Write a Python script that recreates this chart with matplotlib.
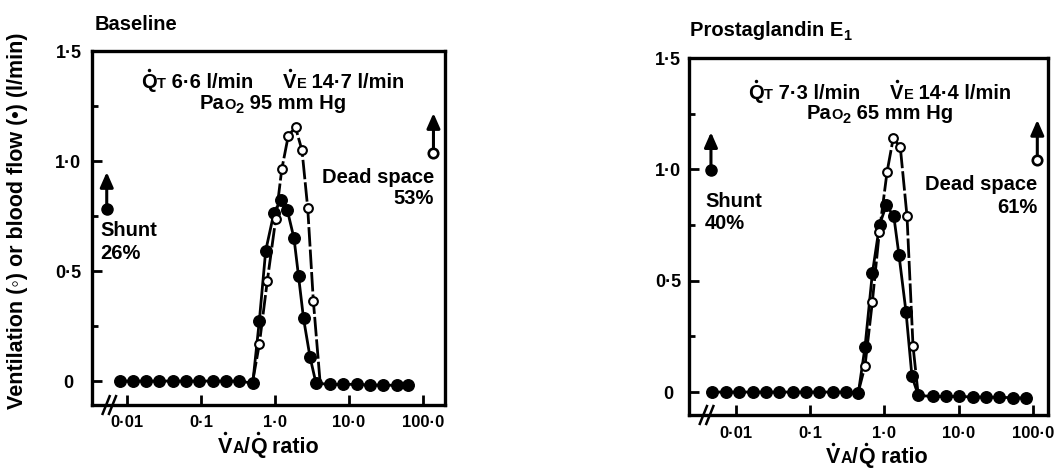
import matplotlib
matplotlib.use('Agg')
import matplotlib.pyplot as plt
from matplotlib.lines import Line2D
from matplotlib.ticker import NullLocator
from matplotlib.transforms import offset_copy, blended_transform_factory

FONT = ['Liberation Sans', 'DejaVu Sans']
plt.rcParams['font.family'] = FONT
plt.rcParams['font.weight'] = 'bold'

# ---------------- data ----------------
# Baseline panel: blood flow (filled) and ventilation (open) vs VA/Q ratio
base_q_ratio = [0.00804, 0.0122, 0.0181, 0.0274, 0.0415, 0.0627, 0.0948, 0.144,
                0.218, 0.330, 0.500, 0.614, 0.748, 0.968, 1.205, 1.466, 1.807,
                2.080, 2.427, 2.972, 3.581, 5.534, 8.375, 12.71, 19.23, 29.11,
                44.16, 63.24]
base_q_flow = [0, 0, 0, 0, 0, 0, 0, 0, 0, 0, -0.01, 0.274, 0.592, 0.765, 0.823,
               0.777, 0.648, 0.476, 0.285, 0.109, -0.01, -0.015, -0.015, -0.015,
               -0.018, -0.018, -0.02, -0.02]
base_v_ratio = [0.500, 0.614, 0.787, 1.021, 1.233, 1.514, 1.892, 2.317, 2.767,
                3.296, 4.055]
base_v_vent = [0, 0.168, 0.456, 0.735, 0.962, 1.116, 1.153, 1.048, 0.786, 0.364, 0]
base_shunt = (0.00532, 0.78)
base_dead = (138.4, 1.038)

# Prostaglandin E1 panel
pge_q_ratio = [0.00471, 0.00733, 0.0111, 0.0168, 0.0254, 0.0383, 0.0581, 0.0877,
               0.132, 0.200, 0.303, 0.444, 0.546, 0.686, 0.859, 1.057, 1.334,
               1.567, 1.950, 2.344, 2.851, 4.457, 6.730, 10.16, 15.42, 23.28,
               35.16, 53.33, 80.54]
pge_q_flow = [0, 0, 0, 0, 0, 0, 0, 0, 0, 0, 0, -0.005, 0.201, 0.533, 0.752,
              0.839, 0.790, 0.615, 0.359, 0.070, -0.015, -0.02, -0.02, -0.02,
              -0.022, -0.022, -0.024, -0.025, -0.027]
pge_v_ratio = [0.444, 0.546, 0.686, 0.851, 1.081, 1.312, 1.633, 2.009, 2.421, 2.818]
pge_v_vent = [0, 0.117, 0.405, 0.717, 0.987, 1.141, 1.099, 0.790, 0.207, 0]
pge_shunt = (0.00460, 0.997)
pge_dead = (114.3, 1.042)

x_ticks = [0.01, 0.1, 1, 10, 100]
x_tick_labels = ['0·01', '0·1', '1·0', '10·0', '100·0']
y_ticks = [0, 0.5, 1.0, 1.5]
y_tick_labels = ['0', '0·5', '1·0', '1·5']
y_minor = [0.25, 0.75, 1.25]

# ---------------- figure ----------------
fig = plt.figure(figsize=(10.54, 4.72), dpi=100)
renderer = fig.canvas.get_renderer()


def rich(trans, x, y, pieces, ha='left'):
    """pieces: (text, size, dy_px, dot_above, pad_before_px)"""
    items = []
    cur = 0.0
    for p in pieces:
        s, size = p[0], p[1]
        dy = p[2] if len(p) > 2 else 0.0
        dot = p[3] if len(p) > 3 else False
        pad = p[4] if len(p) > 4 else 0.0
        cur += pad
        t = fig.text(x, y, s, fontsize=size, fontweight='bold', ha='left',
                     va='baseline', transform=trans, family=FONT)
        w = t.get_window_extent(renderer).width
        items.append((t, cur, dy, w, size, dot))
        cur += w
    start = {'left': 0.0, 'center': -cur / 2.0, 'right': -cur}[ha]
    for t, off, dy, w, size, dot in items:
        t.set_transform(offset_copy(trans, fig=fig, x=start + off, y=dy, units='dots'))
        if dot:
            cap = size * 0.716 * fig.dpi / 72.0
            fig.add_artist(Line2D([x], [y], marker='o', ms=2.5, color='k', mew=0,
                                  transform=offset_copy(trans, fig=fig, x=start + off + w / 2.0,
                                                        y=dy + cap + 4.0, units='dots')))


def panel(rect, xlim, ylim, q_ratio, q_flow, v_ratio, v_vent, shunt, dead,
          ytick_pad, xtick_pad):
    ax = fig.add_axes(rect)
    ax.set_xscale('log')
    ax.set_xlim(*xlim)
    ax.set_ylim(*ylim)
    # blood flow (filled) line
    ax.plot(q_ratio, q_flow, '-', color='k', lw=2.0, marker='o', ms=8.3,
            mfc='k', mec='k', zorder=3, clip_on=False)
    # ventilation (open) line
    ax.plot(v_ratio, v_vent, color='k', lw=2.0, dashes=(7, 1.1), marker='o', ms=6.3,
            mfc='white', mec='k', mew=1.5, markevery=slice(1, len(v_ratio) - 1),
            zorder=4, clip_on=False)
    # shunt & dead space with arrows
    ax.plot([shunt[0]], [shunt[1]], 'o', color='k', ms=8, zorder=5)
    ax.annotate('', xy=(shunt[0], shunt[1] + 0.17), xytext=(shunt[0], shunt[1]),
                arrowprops=dict(arrowstyle='-|>,head_length=0.5,head_width=0.22', lw=2.2,
                                color='k', mutation_scale=18, shrinkA=0, shrinkB=0))
    ax.annotate('', xy=(dead[0], dead[1] + 0.18), xytext=(dead[0], dead[1] + 0.02),
                arrowprops=dict(arrowstyle='-|>,head_length=0.5,head_width=0.22', lw=2.2,
                                color='k', mutation_scale=18, shrinkA=0, shrinkB=0))
    ax.plot([dead[0]], [dead[1]], 'o', mfc='white', mec='k', mew=1.9, ms=6.8, zorder=5)

    ax.set_xticks(x_ticks, x_tick_labels)
    ax.xaxis.set_minor_locator(NullLocator())
    ax.set_yticks(y_ticks, y_tick_labels)
    ax.set_yticks(y_minor, minor=True)
    ax.tick_params(axis='both', which='major', direction='in', length=7, width=2.0,
                   top=False, right=False)
    ax.tick_params(axis='y', which='major', labelsize=13, pad=ytick_pad)
    ax.tick_params(axis='x', which='major', labelsize=12, pad=xtick_pad)
    ax.tick_params(axis='y', which='minor', direction='in', length=4, width=2.0, right=False)
    for lbl in ax.get_yticklabels():
        lbl.set_ha('center')
        lbl.set_fontweight('bold')
    for lbl in ax.get_xticklabels():
        lbl.set_fontweight('bold')
    for sp in ax.spines.values():
        sp.set_linewidth(2.4)
    # axis break marks on the bottom spine
    for dx in (0.0, 0.018):
        ax.plot([0.03 + dx, 0.05 + dx], [-0.025, 0.025], transform=ax.transAxes,
                color='k', lw=1.8, clip_on=False, zorder=6)
    return ax


# left panel (Baseline)
axL = panel([0.0873, 0.1419, 0.3349, 0.75], (0.003365, 198.2), (-0.109, 1.5),
            base_q_ratio, base_q_flow, base_v_ratio, base_v_vent, base_shunt, base_dead,
            ytick_pad=17, xtick_pad=7.0)
# right panel (Prostaglandin E1)
axR = panel([0.6537, 0.1208, 0.3406, 0.7563], (0.002328, 159.2), (-0.103, 1.5),
            pge_q_ratio, pge_q_flow, pge_v_ratio, pge_v_vent, pge_shunt, pge_dead,
            ytick_pad=15, xtick_pad=8.0)

S = 14.5   # main annotation size
s = 10.5   # small capitals

# titles
rich(fig.transFigure, 95 / 1054, 1 - 30 / 472, [('Baseline', S)])
rich(fig.transFigure, 690 / 1054, 1 - 36 / 472,
     [('Prostaglandin E', S), ('1', s, -4)])

# y label
fig.text(18 / 1054, 1 - 221 / 472, 'Ventilation (◦) or blood flow (•) (l/min)',
         rotation=90, ha='center', va='center', fontsize=15.5, fontweight='bold',
         family=FONT)


def annotate_panel(ax, qt, ve, pao2, row_x, row1_y, row2_y, shunt_txt, shunt_x,
                   shunt_y, dead_txt, dead_x, dead_y, xl_x, xl_y):
    tr = ax.transData
    rich(tr, row_x, row1_y,
         [('Q', S, 0, True), ('T', s), (' ' + qt + ' l/min', S),
          ('V', S, 0, True, 30), ('E', s), (' ' + ve + ' l/min', S)], ha='center')
    rich(tr, row_x, row2_y,
         [('Pa', S), ('O', s), ('2', s, -4), (' ' + pao2 + ' mm Hg', S)], ha='center')
    rich(tr, shunt_x, shunt_y[0], [('Shunt', S)])
    rich(tr, shunt_x, shunt_y[1], [(shunt_txt, S)])
    rich(tr, dead_x, dead_y[0], [('Dead space', S)], ha='right')
    rich(tr, dead_x, dead_y[1], [(dead_txt, S)], ha='right')
    bt = blended_transform_factory(ax.transData, fig.transFigure)
    rich(bt, xl_x, xl_y,
         [('V', 15.5, 0, True), ('A', 11.5), ('/', 15.5), ('Q', 15.5, 0, True),
          (' ratio', 15.5)], ha='center')


annotate_panel(axL, '6·6', '14·7', '95', 0.94, 1.332, 1.238, '26%', 0.00432,
               (0.660, 0.555), '53%', 140.9, (0.901, 0.805), 0.813, 1 - 452.7 / 472)
annotate_panel(axR, '7·3', '14·4', '65', 0.869, 1.316, 1.226, '40%', 0.00382,
               (0.829, 0.731), '61%', 114.3, (0.907, 0.802), 0.785, 1 - 463.3 / 472)

fig.savefig('out.png', dpi=100, facecolor='white')
